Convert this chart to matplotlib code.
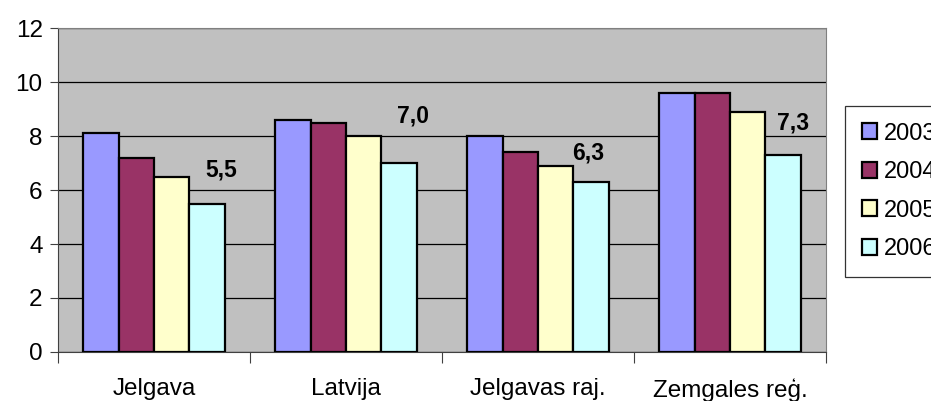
import numpy as np
import matplotlib.pyplot as plt
from matplotlib.ticker import FixedLocator

plt.rcParams['font.family'] = ['Liberation Sans', 'DejaVu Sans']

# --- data ---
categories = ['Jelgava', 'Latvija', 'Jelgavas raj.', 'Zemgales reģ.']
years = ['2003', '2004', '2005', '2006']
v2003 = [8.1, 8.6, 8.0, 9.6]
v2004 = [7.2, 8.5, 7.4, 9.6]
v2005 = [6.5, 8.0, 6.9, 8.9]
v2006 = [5.5, 7.0, 6.3, 7.3]
labels_2006 = ['5,5', '7,0', '6,3', '7,3']

series = [v2003, v2004, v2005, v2006]
colors = ['#9999FF', '#993366', '#FFFFCC', '#CCFFFF']

fig = plt.figure(figsize=(9.31, 4.01), dpi=100)
ax = fig.add_axes([58 / 931, 49 / 401, 768 / 931, 324 / 401])
ax.set_facecolor('#C0C0C0')

x = np.arange(len(categories))
bw = 0.184
for i, vals in enumerate(series):
    ax.bar(x + (i - 1.5) * bw, vals, bw, color=colors[i], edgecolor='black',
           linewidth=1.6, label=years[i], zorder=3)

# value labels for 2006 (Excel places them a bit above/right of the bar)
lab_dx = [0.35, 0.35, 0.26, 0.33]
lab_dy = [1.24, 1.74, 1.07, 1.18]
for i, txt in enumerate(labels_2006):
    ax.text(x[i] + lab_dx[i], v2006[i] + lab_dy[i], txt, ha='center', va='center',
            fontsize=16.5, fontweight='bold', zorder=4)

ax.set_xlim(-0.5, 3.5)
ax.set_ylim(0, 12)
ax.set_yticks(range(0, 13, 2))
ax.yaxis.grid(True, color='black', linewidth=0.9, zorder=1)
ax.tick_params(axis='y', labelsize=17.5, length=6, width=0.8, color='#404040', pad=5)

ax.set_xticks(x)
ax.set_xticklabels(categories)
ax.tick_params(axis='x', which='major', length=0, labelsize=17.5, pad=19)
ax.xaxis.set_minor_locator(FixedLocator([-0.5, 0.5, 1.5, 2.5, 3.5]))
ax.tick_params(axis='x', which='minor', length=8, width=0.8, color='#404040')

for s in ['top', 'right']:
    ax.spines[s].set_color('#808080')
for s in ['left', 'bottom']:
    ax.spines[s].set_color('#404040')

# legend sits partly outside the figure, as in the original
leg = fig.legend(loc='upper left', bbox_to_anchor=(845 / 931, 1 - 106 / 401),
                 fontsize=17, frameon=True, fancybox=False, edgecolor='black',
                 handlelength=0.65, handleheight=0.65, handletextpad=0.3,
                 labelspacing=0.7, borderpad=0.7, borderaxespad=0)
leg.get_frame().set_linewidth(0.9)

fig.savefig('out.png', dpi=100)
